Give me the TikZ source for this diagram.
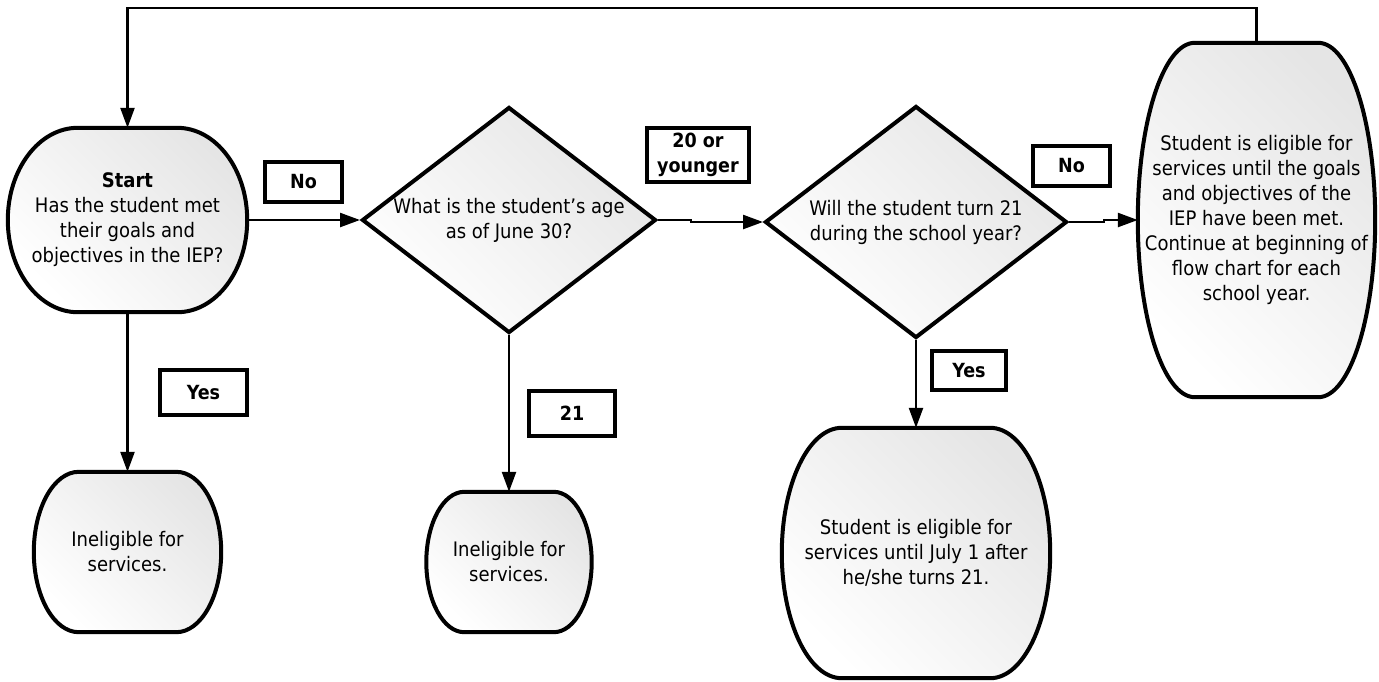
\documentclass[tikz,border=0pt]{standalone}
\usepackage{fontspec}
\setmainfont{DejaVu Sans Condensed}
\usetikzlibrary{arrows.meta,shapes.geometric,calc,backgrounds}

\tikzset{
  barrelbox/.style={rectangle, inner sep=0pt, align=center, font=\fontsize{20}{25}\selectfont},
  shapeout/.style={draw=black, line width=4pt, top color=black!10, bottom color=white, shading angle=-45},
  decision/.style={diamond, draw=black, line width=4pt, top color=black!10, bottom color=white, shading angle=-45, inner sep=0pt},
  dtext/.style={inner sep=0pt, align=center, font=\fontsize{20}{25}\selectfont},
  lbl/.style={draw=black, line width=3.2pt, fill=white, inner sep=0pt, align=center, font=\bfseries\fontsize{19.5}{25}\selectfont},
  conn/.style={line width=2.4pt, -{Triangle[length=20pt,width=14pt]}}
}

\newcommand\barrelout[2]{%
  \path[shapeout] let \p1=(#1.north west), \p2=(#1.south east), \p3=(#1.center) in
  (\x1+#2pt,\y1) -- (\x2-#2pt,\y1)
  .. controls (\x2-0.448*#2pt,\y1) and (\x2,{\y3+0.552*(\y1-\y3)}) .. (\x2,\y3)
  .. controls (\x2,{\y3+0.552*(\y2-\y3)}) and (\x2-0.448*#2pt,\y2) .. (\x2-#2pt,\y2)
  -- (\x1+#2pt,\y2)
  .. controls (\x1+0.448*#2pt,\y2) and (\x1,{\y3+0.552*(\y2-\y3)}) .. (\x1,\y3)
  .. controls (\x1,{\y3+0.552*(\y1-\y3)}) and (\x1+0.448*#2pt,\y1) .. (\x1+#2pt,\y1) -- cycle;}

\begin{document}
\begin{tikzpicture}[x=1pt,y=-1pt]
\useasboundingbox (0,0) rectangle (1379,681);

% terminal / result nodes
\node[barrelbox, minimum width=239pt, minimum height=184pt] (s) at (127.5,220)
  {\textbf{Start}\\Has the student met\\their goals and\\objectives in the IEP?};
\node[barrelbox, minimum width=187pt, minimum height=160pt] (i1) at (127.5,552)
  {Ineligible for\\services.};
\node[barrelbox, minimum width=165pt, minimum height=140pt] (i2) at (509,562)
  {Ineligible for\\services.};
\node[barrelbox, minimum width=268pt, minimum height=250pt] (n3) at (916,553)
  {Student is eligible for\\services until July 1 after\\he/she turns 21.};
\node[barrelbox, minimum width=237pt, minimum height=354pt] (r) at (1256.5,220)
  {Student is eligible for\\services until the goals\\and objectives of the\\IEP have been met.\\Continue at beginning of\\flow chart for each\\school year.};

\begin{pgfonlayer}{background}
  \barrelout{s}{70}
  \barrelout{i1}{45}
  \barrelout{i2}{38}
  \barrelout{n3}{60}
  \barrelout{r}{57}
\end{pgfonlayer}

% decisions
\node[decision, minimum width=294pt, minimum height=226pt] (d1) at (509,220) {};
\node[dtext] (d1t) at (509,220) {What is the student’s age\\as of June 30?};
\node[decision, minimum width=302pt, minimum height=232pt] (d2) at (916,222) {};
\node[dtext] (d2t) at (916,222) {Will the student turn 21\\during the school year?};

% connectors
\draw[conn] (s.east) -- (d1.west);
\draw[conn] (d1.east) -- ++(33,0) |- (d2.west);
\draw[conn] (d2.east) -- ++(35,0) |- (r.west);
\draw[conn] (s.south) -- (i1.north);
\draw[conn] (d1.south) -- (i2.north);
\draw[conn] (d2.south) -- (n3.north);
\coordinate (looptop) at (0,8);
\draw[conn] (r.north) -- (r.north |- looptop) -| (s.north);

% labels
\node[lbl, minimum width=77pt, minimum height=40pt] (lno1) at (303.5,182) {No};
\node[lbl, minimum width=102pt, minimum height=54pt] (l20) at (698,155) {20 or\\younger};
\node[lbl, minimum width=77pt, minimum height=40pt] (lno2) at (1071.5,166) {No};
\node[lbl, minimum width=87pt, minimum height=45pt] (lyes1) at (203.5,392.5) {Yes};
\node[lbl, minimum width=86pt, minimum height=45pt] (l21) at (572,413.5) {21};
\node[lbl, minimum width=74pt, minimum height=39pt] (lyes2) at (969,370.5) {Yes};
\end{tikzpicture}
\end{document}
